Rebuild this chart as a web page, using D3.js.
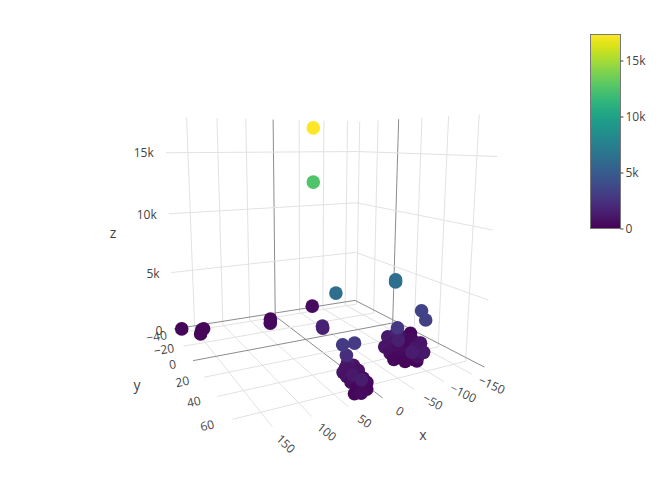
<!DOCTYPE html>
<html>
<head>
<meta charset="utf-8">
<script src="https://cdn.jsdelivr.net/npm/d3@7"></script>
<style>
body { margin: 0; background: #fff; }
text { font-family: 'Open Sans', sans-serif; fill: #444; }
</style>
</head>
<body>
<div id="chart"></div>
<script>
// point data
const xValues = [-69, -49, 38, -71, -71, -122, -105, -66, -3, -2, 27, 36, 176, 148, 154, 144, -70, -93, -82,
  -151, -64, -120, -73, -96, -63, -70, -86, -91, -79, -105, -81, -94, -103, 36, 22, 32, 23, 33, 10,
  21, 33, 12, 25, 20, 34, 29, 32, 30,
  -115, -130, -80, -117, -76, -91, -84, -98, 10, 32, 19, 12, 14, 26, 38,
  -116, -131, -110, -63, -92]
const yValues = [-36, -23, 54, 47, 47, 46, 56, -35, 17, 18, -28, -21, -36, -29, -24, -30, 50, 39, 37, 26, 43, 47,
  60, 59, 48, 51, 52, 57, 47, 41, 42, 45, 48, 59, 61, 60, 56, 58, 58, 57, 61, 63, 63, 70, 73, 67, 72, 64,
  33, 36, 44, 40, 54, 54, 47, 52, 54, 64, 66, 66, 60, 56, 70,
  45, 42, 38, 51, 56]
const zValues = [17150, 12450, 6200, 6150, 6000, 3400, 3300, 500, 1700, 1600, 300, 350, 250, 300, 250, 300,
  2700, 1500, 1200, 300, 900, 900, 1400, 1100, 700, 500, 400, 700, 1500, 400, 1000, 300, 300,
  2900, 3000, 2200, 1300, 900, 800, 900, 800, 600, 500, 400, 500, 300, 1300, 1100,
  700, 500, 600, 500, 300, 300, 600, 1000, 900, 600, 500, 500, 800, 1000, 300,
  500, 500, 500, 400, 300]

const xTicks = [150, 100, 50, 0, -50, -100, -150]
const yTicks = [-40, -20, 0, 20, 40, 60]
const zTicks = [0, 5000, 10000, 15000]
const colorTicks = [0, 5000, 10000, 15000]
const colorMax = 17150

const xRange = [-173, 185]
const yRange = [-42, 72]
const zRange = [-300, 17840]

const width = 668
const height = 493

const gridColor = '#e2e2e2'
const zeroColor = '#8c8c8c'

// scene axes go to 0..1, the camera goes from there to the screen
const xScale = d3.scaleLinear().domain(xRange).range([0, 1])
const yScale = d3.scaleLinear().domain(yRange).range([0, 1])
const zScale = d3.scaleLinear().domain(zRange).range([0, 1])
const colorScale = d3.scaleSequential(d3.interpolateViridis).domain([0, colorMax])

const camera = [
  [-208.055, -13.241, -17.79, 355.022],
  [-22.675, -41.292, -188.603, 303.198],
  [-0.156, -0.294, -0.058, 1]
]

function project(x, y, z) {
  const v = [xScale(x), yScale(y), zScale(z), 1]
  const [a, b, w] = camera.map(row => d3.sum(row, (c, i) => c * v[i]))
  return { left: a / w, top: b / w, depth: w }
}

const svg = d3
  .select('#chart')
  .append('svg')
  .attr('width', width)
  .attr('height', height)
  .style('display', 'block')

const [x0, x1] = xRange
const [y0, y1] = yRange
const [z0, z1] = zRange

function gridLine(from, to, color) {
  const a = project(...from)
  const b = project(...to)
  svg
    .append('line')
    .attr('x1', a.left)
    .attr('y1', a.top)
    .attr('x2', b.left)
    .attr('y2', b.top)
    .attr('stroke', color)
    .attr('stroke-width', 1)
}

// Grid lines, light ones first so the zero lines stay on top
const lineColor = d => (d === 0 ? zeroColor : gridColor)
const zeroLast = ticks => ticks.slice().sort((a, b) => (a === 0) - (b === 0))

zeroLast(xTicks).forEach(d => {
  gridLine([d, y0, z0], [d, y1, z0], lineColor(d))
  gridLine([d, y0, z0], [d, y0, z1], lineColor(d))
})
zeroLast(yTicks).forEach(d => {
  gridLine([x0, d, z0], [x1, d, z0], lineColor(d))
  gridLine([x0, d, z0], [x0, d, z1], lineColor(d))
})
zeroLast(zTicks).forEach(d => {
  gridLine([x1, y0, d], [x0, y0, d], lineColor(d))
  gridLine([x0, y0, d], [x0, y1, d], lineColor(d))
})

// Tick labels
function tickLabel(pos, label, angle, anchor) {
  svg
    .append('text')
    .attr('transform', `translate(${pos.left},${pos.top}) rotate(${angle})`)
    .attr('text-anchor', anchor)
    .attr('dy', '0.35em')
    .attr('font-size', 12)
    .text(label)
}

const minus = d => String(d).replace('-', '\u2212')
const kilo = d => (d === 0 ? '0' : d / 1000 + 'k')

xTicks.forEach(d => {
  const a = project(d, y0, z0)
  const b = project(d, y1, z0)
  const angle = (Math.atan2(b.top - a.top, b.left - a.left) * 180) / Math.PI
  tickLabel(project(d, y1 + 12, z0), minus(d), angle * 0.85, 'middle')
})
yTicks.forEach(d => {
  const a = project(x0, d, z0)
  const b = project(x1, d, z0)
  const angle = (Math.atan2(a.top - b.top, a.left - b.left) * 180) / Math.PI
  tickLabel(project(x1 + 30, d, z0), minus(d), angle, 'middle')
})
zTicks.forEach(d => {
  tickLabel(project(x1 + 19, y0, d), kilo(d), 0, 'end')
})

// Axis titles
const axisTitles = [['x', 423, 435], ['y', 137, 385], ['z', 113, 233]]
svg
  .selectAll('.axis-title')
  .data(axisTitles)
  .enter()
  .append('text')
  .attr('class', 'axis-title')
  .attr('x', d => d[1])
  .attr('y', d => d[2])
  .attr('dy', '0.35em')
  .attr('text-anchor', 'middle')
  .attr('font-size', 14)
  .text(d => d[0])

// Markers, the far ones drawn first
const points = xValues.map((d, i) => {
  const pos = project(d, yValues[i], zValues[i])
  return { left: pos.left, top: pos.top, depth: pos.depth, value: zValues[i] }
})

svg
  .selectAll('.marker')
  .data(points.sort((a, b) => b.depth - a.depth))
  .enter()
  .append('circle')
  .attr('class', 'marker')
  .attr('cx', d => d.left)
  .attr('cy', d => d.top)
  .attr('r', 6.8)
  .attr('fill', d => colorScale(d.value))

// Colorbar, 5k every 56px
const barScale = d3.scaleLinear().domain([0, 5000]).range([228.5, 172.5])

const gradient = svg
  .append('defs')
  .append('linearGradient')
  .attr('id', 'viridis')
  .attr('x1', 0)
  .attr('y1', 1)
  .attr('x2', 0)
  .attr('y2', 0)

gradient
  .selectAll('stop')
  .data(d3.range(0, 1.01, 0.05))
  .enter()
  .append('stop')
  .attr('offset', d => d)
  .attr('stop-color', d => d3.interpolateViridis(d))

svg
  .append('rect')
  .attr('x', 590.5)
  .attr('y', 34.5)
  .attr('width', 30)
  .attr('height', 194)
  .attr('fill', 'url(#viridis)')
  .attr('stroke', '#777')
  .attr('stroke-width', 1)

const barAxis = d3
  .axisRight(barScale)
  .tickValues(colorTicks)
  .tickFormat(kilo)
  .tickSize(3)
  .tickPadding(2)

const barG = svg
  .append('g')
  .attr('transform', 'translate(620.5,0)')
  .call(barAxis)

barG.select('.domain').remove()
barG.selectAll('.tick line').attr('stroke', '#444')
barG
  .selectAll('.tick text')
  .attr('font-size', 12)
  .attr('font-family', "'Open Sans', sans-serif")
  .attr('fill', '#444')
</script>
</body>
</html>
